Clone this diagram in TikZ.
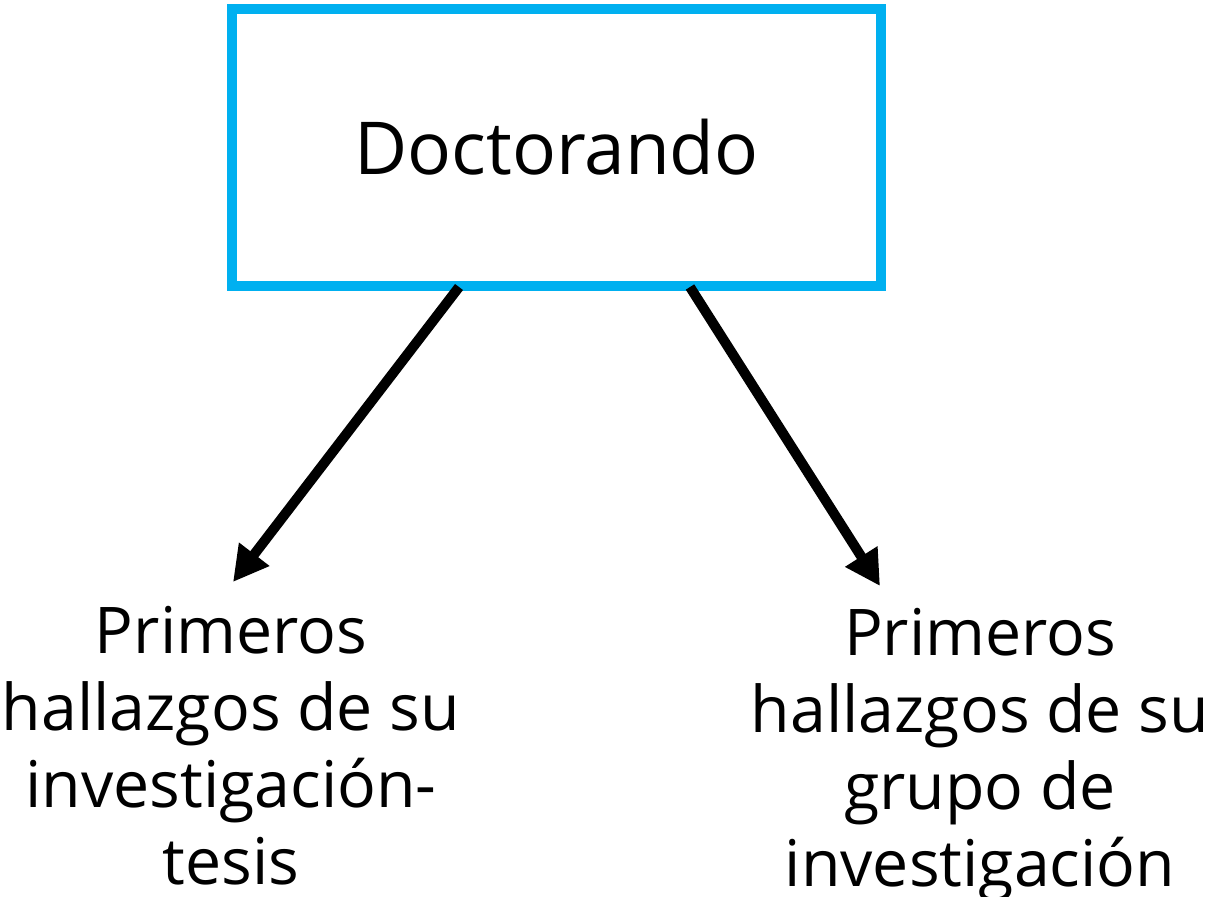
\documentclass[tikz,border=0pt]{standalone}
\usepackage{fontspec}
\setmainfont{Open Sans}
\usetikzlibrary{arrows.meta,positioning}
\definecolor{boxblue}{RGB}{0,176,240}

\begin{document}
\begin{tikzpicture}[x=0.5pt,y=-0.5pt,->,>={Triangle[length=17.5pt,width=18pt]},
                    line width=5pt]
  \tikzstyle{box}=[draw=boxblue,line width=5pt,minimum width=324.5pt,
                   minimum height=138.5pt,font=\fontsize{36.5}{44}\selectfont]
  \tikzstyle{finding}=[draw=none,align=center,inner sep=0pt,anchor=north,
                       font=\fontsize{32.2}{38.4}\selectfont]

  \useasboundingbox (0,0) rectangle (1208,896);

  \node[box]     (DOC)   at (556.5,147.5) {Doctorando};
  \node[finding] (TESIS) at (231,601.6)   {Primeros\\hallazgos de su\\investigación-\\tesis};
  \node[finding] (GRUPO) at (980,603.6)   {Primeros\\hallazgos de su\\grupo de\\investigación};

  \path ([xshift=-48.75pt,yshift=2pt]DOC.south) edge ([xshift=1pt,yshift=9.8pt]TESIS.north)
        ([xshift=66.75pt,yshift=2pt]DOC.south)  edge ([xshift=-50pt,yshift=8.8pt]GRUPO.north);
\end{tikzpicture}
\end{document}
